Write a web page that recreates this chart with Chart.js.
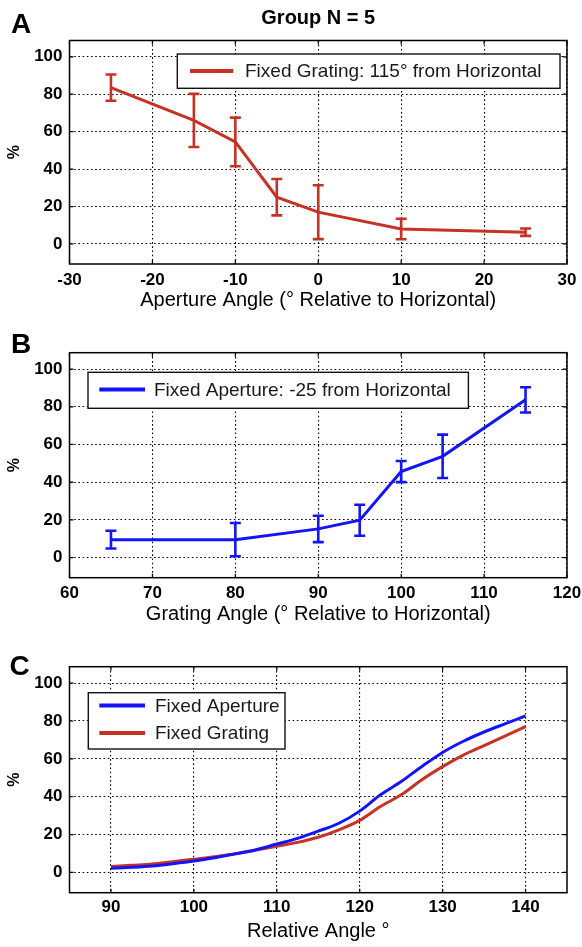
<!DOCTYPE html>
<html><head><meta charset="utf-8">
<script src="https://cdn.jsdelivr.net/npm/chart.js@4/dist/chart.umd.min.js"></script>
<style>
html,body{margin:0;padding:0;background:#fff;}
#wrap{position:relative;width:582px;height:947px;overflow:hidden;background:#fff;}
canvas{position:absolute;left:0;}
</style></head><body>
<div id="wrap">
<canvas id="cA" width="582" height="315" style="top:0px"></canvas>
<canvas id="cB" width="582" height="315" style="top:315px"></canvas>
<canvas id="cC" width="582" height="317" style="top:630px"></canvas>
</div>
<script>
// ---------- data ----------
const chartTitle = 'Group N = 5';
const yTicks = [0, 20, 40, 60, 80, 100];

// Panel A
const apertureAngles   = [-25, -15, -10, -5, 0, 10, 25];
const fixedGratingPct  = [83.5, 66, 54.5, 25, 17, 8, 6.3];
const fixedGratingErr  = [7, 14.2, 13, 9.7, 14.4, 5.5, 2];
const xTicksA = [-30, -20, -10, 0, 10, 20, 30];
const labelA = 'Fixed Grating: 115° from Horizontal';
const xTitleA = 'Aperture Angle (° Relative to Horizontal)';

// Panel B
const gratingAngles     = [65, 80, 90, 95, 100, 105, 115];
const fixedAperturePct  = [9.5, 9.5, 15.2, 19.8, 45.6, 53.7, 83.7];
const fixedApertureErr  = [4.7, 8.8, 7, 8.2, 5.6, 11.5, 6.7];
const xTicksB = [60, 70, 80, 90, 100, 110, 120];
const labelB = 'Fixed Aperture: -25 from Horizontal';
const xTitleB = 'Grating Angle (° Relative to Horizontal)';

// Panel C
const relativeAngles = [90, 92.5, 95, 97.5, 100, 102.5, 105, 107.5, 110, 112.5, 115, 117.5, 120, 122.5, 125, 127.5, 130, 132.5, 135, 137.5, 140];
const curveFixedAperture = [2.2, 2.7, 3.4, 4.6, 6.0, 7.8, 9.8, 12.0, 15.0, 18.0, 21.8, 26.0, 32.4, 41.0, 48.0, 56.0, 63.4, 69.3, 74.2, 78.5, 82.7];
const curveFixedGrating  = [3.2, 3.8, 4.4, 5.7, 7.0, 8.3, 9.9, 11.8, 13.8, 15.9, 18.6, 22.5, 27.5, 34.8, 41.0, 49.0, 55.9, 62.0, 67.0, 72.0, 77.0];
const xTicksC = [90, 100, 110, 120, 130, 140];
const labelC1 = 'Fixed Aperture';
const labelC2 = 'Fixed Grating';
const xTitleC = 'Relative Angle °';

// ---------- styling ----------
const FONT = "'Liberation Sans', Arial, Helvetica, sans-serif";
const RED = 'rgb(198,50,36)';
const BLUE = 'rgb(20,20,250)';
Chart.defaults.font.family = FONT;
Chart.defaults.color = '#000';

const decor = {
  id: 'decor',
  afterDatasetsDraw(chart, args, opts) {
    const ctx = chart.ctx, a = chart.chartArea, xs = chart.scales.x, ys = chart.scales.y;
    // error bars
    chart.data.datasets.forEach(ds => {
      if (!ds.errorBars) return;
      ctx.save();
      ctx.strokeStyle = ds.borderColor; ctx.lineWidth = 2.6; ctx.lineCap = 'butt';
      ds.data.forEach((p, i) => {
        const x = xs.getPixelForValue(p.x);
        const y1 = ys.getPixelForValue(p.y + ds.errorBars[i]);
        const y2 = ys.getPixelForValue(p.y - ds.errorBars[i]);
        const c = 5.5;
        ctx.beginPath();
        ctx.moveTo(x, y1); ctx.lineTo(x, y2);
        ctx.moveTo(x - c, y1); ctx.lineTo(x + c, y1);
        ctx.moveTo(x - c, y2); ctx.lineTo(x + c, y2);
        ctx.stroke();
      });
      ctx.restore();
    });
    // frame + inward ticks
    ctx.save();
    ctx.strokeStyle = '#000'; ctx.lineWidth = 1.5;
    ctx.strokeRect(a.left, a.top, a.right - a.left, a.bottom - a.top);
    ctx.lineWidth = 1.2; ctx.beginPath();
    xs.ticks.forEach(t => { const x = xs.getPixelForValue(t.value);
      ctx.moveTo(x, a.bottom); ctx.lineTo(x, a.bottom - 4);
      ctx.moveTo(x, a.top); ctx.lineTo(x, a.top + 4); });
    ys.ticks.forEach(t => { const y = ys.getPixelForValue(t.value);
      ctx.moveTo(a.left, y); ctx.lineTo(a.left + 4, y);
      ctx.moveTo(a.right, y); ctx.lineTo(a.right - 4, y); });
    ctx.stroke();
    ctx.restore();
    // legend box
    const L = opts.legend;
    if (L) {
      ctx.save();
      ctx.fillStyle = '#fff';
      ctx.fillRect(L.x, L.y, L.w, L.h);
      ctx.strokeStyle = '#111'; ctx.lineWidth = 1.4;
      ctx.strokeRect(L.x, L.y, L.w, L.h);
      chart.data.datasets.forEach((ds, i) => {
        const ry = L.rows[i];
        ctx.strokeStyle = ds.borderColor; ctx.lineWidth = 4;
        ctx.beginPath(); ctx.moveTo(L.lx1, ry); ctx.lineTo(L.lx2, ry); ctx.stroke();
        ctx.fillStyle = '#1a1a1a';
        ctx.font = '19px ' + FONT;
        ctx.textBaseline = 'middle'; ctx.textAlign = 'left';
        ctx.fillText(ds.label, L.tx, ry + 1);
      });
      ctx.restore();
    }
    // panel letter
    const P = opts.panel;
    if (P) {
      ctx.save();
      ctx.fillStyle = '#000';
      ctx.font = 'bold 28px ' + FONT;
      ctx.textBaseline = 'alphabetic'; ctx.textAlign = 'left';
      ctx.fillText(P.text, P.x, P.y);
      ctx.restore();
    }
  }
};

function xScale(min, max, ticks, title, tickPad, titlePad, axisH) {
  return {
    type: 'linear', position: 'bottom', min, max,
    afterBuildTicks: s => { s.ticks = ticks.map(v => ({ value: v })); },
    afterFit: s => { s.height = axisH; s.paddingLeft = 0; s.paddingRight = 0; },
    grid: { color: '#000', lineWidth: 1.1, drawTicks: false },
    border: { display: false, dash: [1.6, 2.6] },
    ticks: { color: '#000', font: { size: 17, weight: 'bold' }, padding: tickPad, maxRotation: 0, autoSkip: false },
    title: { display: true, text: title, color: '#000', font: { size: 20 }, padding: { top: 0, bottom: titlePad } }
  };
}
function yScale() {
  return {
    type: 'linear', position: 'left', min: -10.7, max: 108.7,
    afterBuildTicks: s => { s.ticks = yTicks.map(v => ({ value: v })); },
    afterFit: s => { s.width = 69.5; s.paddingTop = 0; s.paddingBottom = 0; },
    grid: { color: '#000', lineWidth: 1.1, drawTicks: false },
    border: { display: false, dash: [1.6, 2.6] },
    ticks: { color: '#000', font: { size: 17, weight: 'bold' }, padding: 7, autoSkip: false },
    title: { display: true, text: '%', color: '#000', font: { size: 16, weight: 'bold' }, padding: { top: 5, bottom: 0 } }
  };
}
function series(label, xs, ys, color, err) {
  const d = { label, data: xs.map((x, i) => ({ x, y: ys[i] })), borderColor: color, backgroundColor: color,
    borderWidth: 3, pointRadius: 0, fill: false, tension: 0 };
  if (err) d.errorBars = err;
  return d;
}
function make(id, datasets, x, padTop, titleOpt, legend, panel) {
  return new Chart(document.getElementById(id), {
    type: 'line',
    data: { datasets },
    options: {
      responsive: false, animation: false, devicePixelRatio: 1,
      layout: { padding: { top: padTop, left: 0, right: 15, bottom: 0 } },
      scales: { x, y: yScale() },
      plugins: {
        legend: { display: false }, tooltip: { enabled: false },
        title: titleOpt || { display: false },
        decor: { legend, panel }
      }
    },
    plugins: [decor]
  });
}

make('cA', [series(labelA, apertureAngles, fixedGratingPct, RED, fixedGratingErr)],
  xScale(-30, 30, xTicksA, xTitleA, 6.5, 2.5, 51), 0,
  { display: true, text: chartTitle, fullSize: false, color: '#000', font: { size: 20, weight: 'bold' }, padding: { top: 6, bottom: 10.5 } },
  { x: 177.3, y: 54, w: 382.7, h: 34.3, rows: [71], lx1: 190, lx2: 233.3, tx: 245 },
  { text: 'A', x: 11, y: 33 });

make('cB', [series(labelB, gratingAngles, fixedAperturePct, BLUE, fixedApertureErr)],
  xScale(60, 120, xTicksB, xTitleB, 5, 3.4, 52.3), 37.7, null,
  { x: 88, y: 57.3, w: 380.4, h: 36, rows: [74.5], lx1: 99.3, lx2: 145, tx: 154 },
  { text: 'B', x: 11, y: 37.7 });

const cA1 = series(labelC1, relativeAngles, curveFixedAperture, BLUE);
const cA2 = series(labelC2, relativeAngles, curveFixedGrating, RED);
cA1.cubicInterpolationMode = 'monotone'; cA2.cubicInterpolationMode = 'monotone';
make('cC', [cA1, cA2],
  xScale(85, 145, xTicksC, xTitleC, 4.6, 3.3, 54.3), 36.7, null,
  { x: 88.3, y: 62.7, w: 196.7, h: 56.3, rows: [75.5, 103], lx1: 99.3, lx2: 145, tx: 155 },
  { text: 'C', x: 9.5, y: 45 });
</script>
</body></html>
